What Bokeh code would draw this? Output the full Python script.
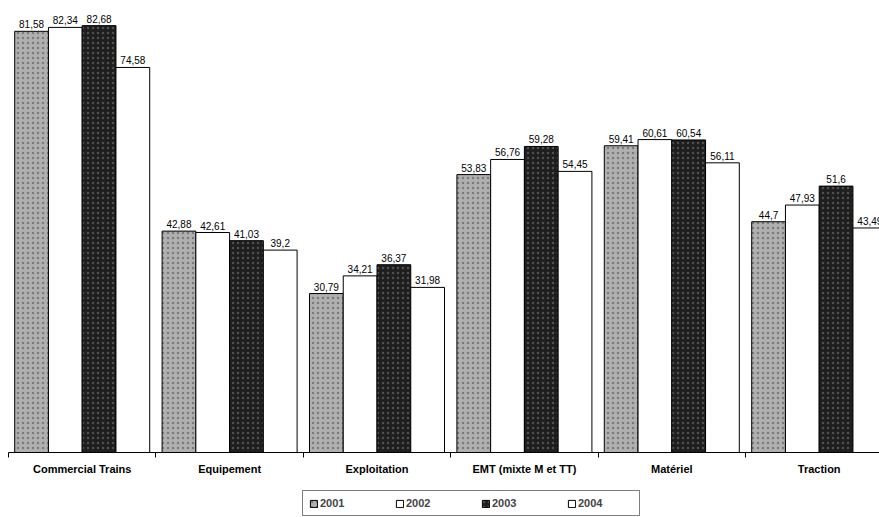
from bokeh.plotting import figure
from bokeh.layouts import column
from bokeh.models import Range1d, FixedTicker, Legend, LegendItem, ColumnDataSource
from bokeh.transform import dodge
from bokeh.core.properties import value
from bokeh.embed import file_html
from bokeh.resources import INLINE

categories = ["Commercial Trains", "Equipement", "Exploitation",
              "EMT (mixte M et TT)", "Matériel", "Traction"]
years = ["2001", "2002", "2003", "2004"]
v2001 = [81.58, 42.88, 30.79, 53.83, 59.41, 44.7]
v2002 = [82.34, 42.61, 34.21, 56.76, 60.61, 47.93]
v2003 = [82.68, 41.03, 36.37, 59.28, 60.54, 51.6]
v2004 = [74.58, 39.2, 31.98, 54.45, 56.11, 43.49]
series = [v2001, v2002, v2003, v2004]


def fmt(v):
    return f"{v:g}".replace(".", ",")


idx = list(range(len(categories)))
data = {"x": idx}
for yr, vals in zip(years, series):
    data["v" + yr] = vals
    data["l" + yr] = [fmt(v) for v in vals]
src = ColumnDataSource(data)

FW, FH = 871, 444
pitch = 147.4
p = figure(frame_width=FW, frame_height=FH, output_backend="svg", toolbar_location=None,
           x_range=Range1d(-0.5, -0.5 + FW / pitch), y_range=Range1d(0, 86.0),
           min_border_left=8, min_border_right=0, min_border_top=8,
           min_border_bottom=30, outline_line_color=None)
p.yaxis.visible = False
p.xgrid.visible = False
p.ygrid.visible = False

ax = p.xaxis[0]
ax.ticker = FixedTicker(ticks=idx, minor_ticks=[i - 0.5 for i in range(len(categories) + 1)])
ax.major_label_overrides = {i: c for i, c in zip(idx, categories)}
ax.major_tick_line_color = None
ax.major_tick_out = 5
ax.minor_tick_out = 5
ax.minor_tick_in = 0
ax.minor_tick_line_color = "black"
ax.axis_line_color = "black"
ax.major_label_standoff = 5
ax.major_label_text_font = "Liberation Sans"
ax.major_label_text_font_style = "bold"
ax.major_label_text_font_size = "11px"
ax.major_label_text_color = "black"

offsets = [-0.3435, -0.1145, 0.1145, 0.3435]
fills = ["#b0b0b0", "white", "#1e1e1e", "white"]
hatches = [("dot", "#7a7a7a"), (None, None), ("dot", "#505050"), (None, None)]
bw = 0.229

# legend strip below the chart (its proxy bars lie wholly outside its visible ranges)
p2 = figure(width=879, height=35, output_backend="svg", toolbar_location=None,
            x_range=Range1d(100, 101), y_range=Range1d(200, 201),
            min_border_left=0, min_border_right=0, min_border_top=0,
            min_border_bottom=0, outline_line_color=None)
p2.xaxis.visible = False
p2.yaxis.visible = False
p2.xgrid.visible = False
p2.ygrid.visible = False

items = []
for yr, off, fc, (hp, hc) in zip(years, offsets, fills, hatches):
    kw = {}
    if hp:
        kw = dict(hatch_pattern=hp, hatch_color=hc, hatch_scale=5, hatch_weight=1.5)
    p.vbar(x=dodge("x", off, range=p.x_range), top="v" + yr, width=bw,
           source=src, fill_color=fc, line_color="black", line_width=1, **kw)
    p.text(x=dodge("x", off, range=p.x_range), y="v" + yr, text="l" + yr,
           source=src, text_align="center", text_baseline="bottom", y_offset=-3,
           text_font_size="10px", text_font=value("Liberation Sans"), text_color="black")
    proxy = p2.vbar(x="x", top="v" + yr, width=bw, source=src, fill_color=fc,
                    line_color="black", line_width=1, **kw)
    items.append(LegendItem(label=yr, renderers=[proxy]))

legend = Legend(items=items, orientation="horizontal", location=(294, 1),
                border_line_color="black", border_line_width=1, padding=6,
                spacing=20, glyph_width=9, glyph_height=9, label_standoff=2,
                label_width=55, label_height=12,
                label_text_font="Liberation Sans", label_text_font_style="bold",
                label_text_font_size="11px", margin=0)
p2.add_layout(legend)

layout = column(p, p2, spacing=0)
open("out.html", "w").write(file_html(layout, INLINE))
